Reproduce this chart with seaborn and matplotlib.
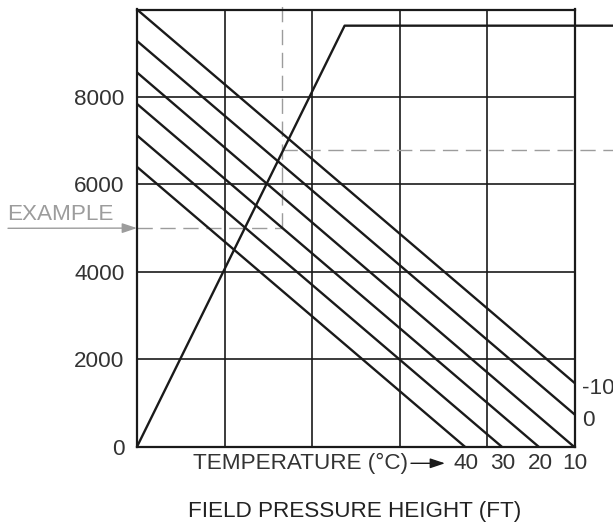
import matplotlib
matplotlib.use("Agg")
import matplotlib.pyplot as plt
import numpy as np
import pandas as pd
import seaborn as sns

# Temperature lines (°C): height at the left edge and at the right edge of the chart
temps = [-10, 0, 10, 20, 30, 40]
height_left = [10000, 9280, 8560, 7840, 7120, 6400]
height_right = [1450, 730, -20, -710, -1430, -2150]

# Limit line: rises from the origin, then levels off
limit_x = [0, 4.74, 11.0]
limit_y = [0, 9630, 9630]

# Worked example
example_height = 5000
example_x = 3.30
result_height = 6790

y_ticks = [0, 2000, 4000, 6000, 8000]
x_grid = [0, 2, 4, 6, 8, 10]
x_span = 10

ink = "#1a1a1a"
guide = "#9c9c9c"
label_color = "#333333"
fs = 16.2

sns.set_theme(style="white")
plt.rcParams["font.family"] = ["Liberation Sans", "DejaVu Sans"]

W, H = 613, 527
fig = plt.figure(figsize=(W / 100, H / 100), dpi=100)
ax = fig.add_axes([137 / W, 1 - 446.7 / H, 438 / W, 437.2 / H])

lines = pd.DataFrame({
    "temp": np.repeat(temps, 2),
    "x": [0, x_span] * len(temps),
    "height": [v for pair in zip(height_left, height_right) for v in pair],
})
sns.lineplot(data=lines, x="x", y="height", units="temp", estimator=None,
             color=ink, lw=1.7, legend=False, ax=ax)

sns.lineplot(x=limit_x, y=limit_y, sort=False, color=ink, lw=1.7,
             clip_on=False, ax=ax)

# Example guide lines
dash = dict(color=guide, lw=1.0, dashes=(11, 5.5), clip_on=False, zorder=1.5)
ax.plot([0, example_x], [example_height, example_height], **dash)
ax.plot([example_x, example_x], [example_height, 10200], **dash)
ax.plot([example_x, 11.0], [result_height, result_height], **dash)

ax.set_xlim(0, x_span)
ax.set_ylim(0, 10000)
ax.set_xticks(x_grid)
ax.set_xticklabels([])
ax.set_yticks(y_ticks)
ax.set_yticklabels([str(v) for v in y_ticks])
ax.tick_params(length=0, pad=9, labelsize=fs, labelcolor=label_color)
ax.set_xlabel("")
ax.set_ylabel("")
ax.grid(True, color=ink, lw=1.2)
for s in ax.spines.values():
    s.set_visible(True)
    s.set_color(ink)
    s.set_linewidth(1.6)

# Temperature labels where each line meets the bottom or right edge
for t, yl, yr in zip(temps, height_left, height_right):
    if yr > 0:
        ax.annotate(str(t), xy=(x_span, yr), xytext=(4.8, -3.8),
                    textcoords="offset points", ha="left", va="center",
                    fontsize=fs, color=label_color, annotation_clip=False)
    else:
        x0 = x_span * yl / (yl - yr)
        ax.annotate(str(t), xy=(x0, 0), xytext=(1.0, -12),
                    textcoords="offset points", ha="center", va="center",
                    fontsize=fs, color=label_color, annotation_clip=False)

fig.text(408 / W, 1 - 463 / H, "TEMPERATURE (°C)", ha="right", va="center",
         fontsize=fs, color=label_color)
ax.annotate("", xy=(445, H - 463.3), xytext=(411, H - 463.3),
            xycoords="figure pixels", textcoords="figure pixels",
            arrowprops=dict(arrowstyle="-|>,head_length=0.6,head_width=0.2",
                            mutation_scale=15, color=ink, lw=1.0,
                            shrinkA=0, shrinkB=0))

fig.text(7.3 / W, 1 - 220 / H, "EXAMPLE", ha="left", va="baseline",
         fontsize=fs, color=guide)
ax.annotate("", xy=(0, example_height), xytext=(8, H - 228.3),
            xycoords="data", textcoords="figure pixels",
            arrowprops=dict(arrowstyle="-|>,head_length=0.6,head_width=0.2",
                            mutation_scale=15, color=guide, lw=1.0,
                            shrinkA=0, shrinkB=0), annotation_clip=False)

fig.text(355 / W, 1 - 511.5 / H, "FIELD PRESSURE HEIGHT (FT)", ha="center",
         va="center", fontsize=fs, color="#222222")

fig.savefig("out.png", dpi=100)
